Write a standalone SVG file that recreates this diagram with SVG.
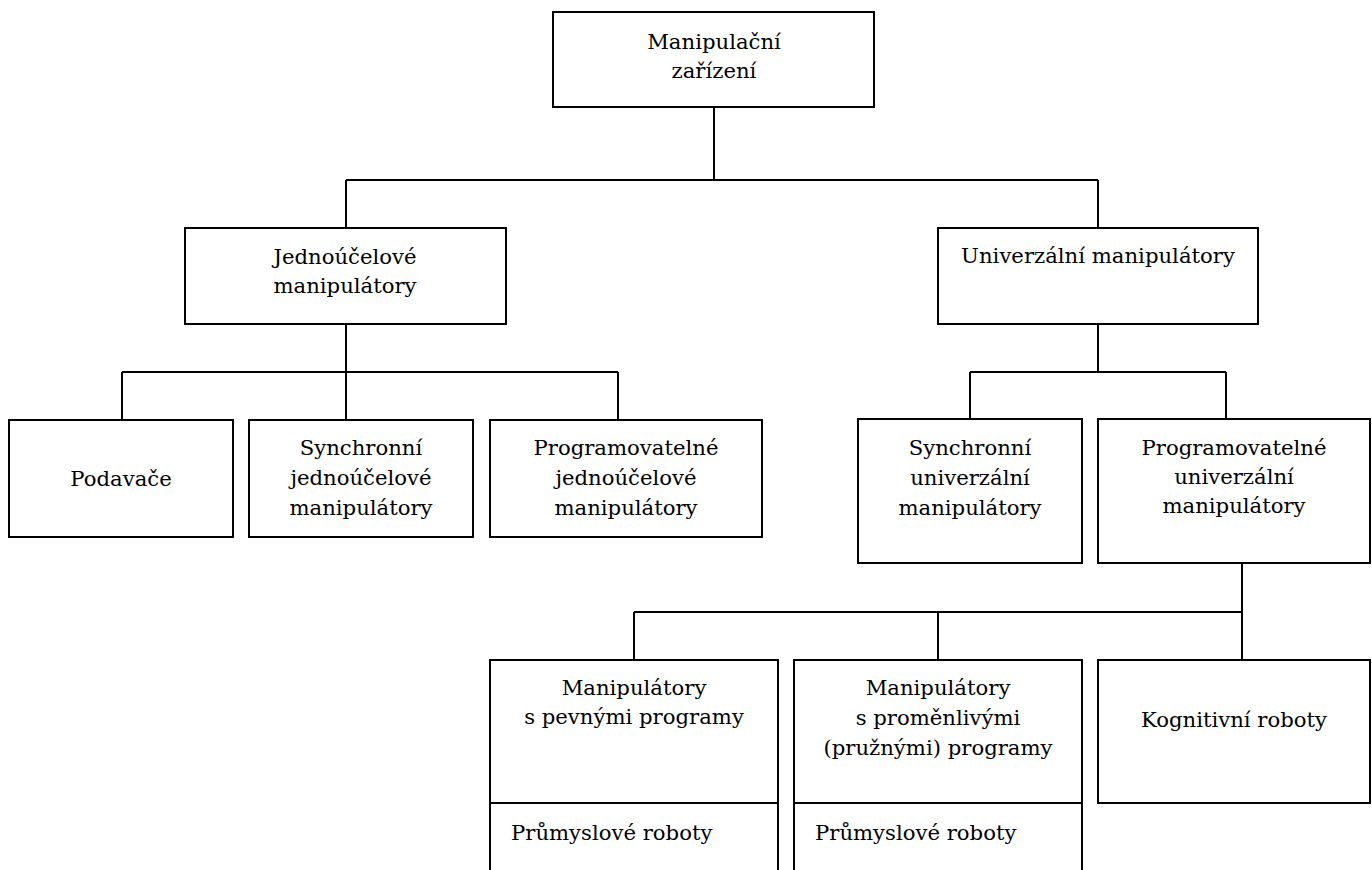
<svg xmlns="http://www.w3.org/2000/svg" width="1372" height="870" viewBox="0 0 1372 870">
  <style>
    .box { fill: #ffffff; stroke: #000000; stroke-width: 2; }
    .wire { fill: none; stroke: #000000; stroke-width: 2; }
    .lbl { font-family: 'DejaVu Serif', 'Liberation Serif', serif; font-size: 21.2px; fill: #000000; }
    .c { text-anchor: middle; }
  </style>
  <rect x="0" y="0" width="1372" height="870" fill="#ffffff"/>

  <!-- connectors -->
  <g id="connectors">
    <path class="wire" d="M714 107 V180 M346 180 H1098 M346 180 V228 M1098 180 V228"/>
    <path class="wire" d="M346 324 V372 M122 372 H618 M122 372 V420 M346 372 V420 M618 372 V420"/>
    <path class="wire" d="M1098 324 V372 M970 372 H1226 M970 372 V419 M1226 372 V419"/>
    <path class="wire" d="M1242 563 V612 M634 612 H1242 M634 612 V660 M938 612 V660 M1242 612 V660"/>
  </g>

  <g class="lbl">
    <g id="n-root">
      <rect class="box" x="553" y="12" width="321" height="95"/>
      <text class="c" x="714" y="49">Manipulační</text>
      <text class="c" x="714" y="78">zařízení</text>
    </g>

    <g id="n-jednoucelove">
      <rect class="box" x="185" y="228" width="321" height="96"/>
      <text class="c" x="345" y="264">Jednoúčelové</text>
      <text class="c" x="345" y="293">manipulátory</text>
    </g>

    <g id="n-univerzalni">
      <rect class="box" x="938" y="228" width="320" height="96"/>
      <text class="c" x="1098" y="263">Univerzální manipulátory</text>
    </g>

    <g id="n-podavace">
      <rect class="box" x="9" y="420" width="224" height="117"/>
      <text class="c" x="121" y="486">Podavače</text>
    </g>

    <g id="n-sync-jedn">
      <rect class="box" x="249" y="420" width="224" height="117"/>
      <text class="c" x="361" y="455">Synchronní</text>
      <text class="c" x="361" y="485">jednoúčelové</text>
      <text class="c" x="361" y="515">manipulátory</text>
    </g>

    <g id="n-prog-jedn">
      <rect class="box" x="490" y="420" width="272" height="117"/>
      <text class="c" x="626" y="455">Programovatelné</text>
      <text class="c" x="626" y="485">jednoúčelové</text>
      <text class="c" x="626" y="515">manipulátory</text>
    </g>

    <g id="n-sync-univ">
      <rect class="box" x="858" y="419" width="224" height="144"/>
      <text class="c" x="970" y="455">Synchronní</text>
      <text class="c" x="970" y="485">univerzální</text>
      <text class="c" x="970" y="515">manipulátory</text>
    </g>

    <g id="n-prog-univ">
      <rect class="box" x="1098" y="419" width="272" height="144"/>
      <text class="c" x="1234" y="455">Programovatelné</text>
      <text class="c" x="1234" y="484">univerzální</text>
      <text class="c" x="1234" y="513">manipulátory</text>
    </g>

    <g id="n-pevne">
      <rect class="box" x="490" y="660" width="288" height="230"/>
      <path class="wire" d="M490 803 H778"/>
      <text class="c" x="634" y="695">Manipulátory</text>
      <text class="c" x="634" y="724">s pevnými programy</text>
      <text x="511" y="840">Průmyslové roboty</text>
    </g>

    <g id="n-promenlive">
      <rect class="box" x="794" y="660" width="288" height="230"/>
      <path class="wire" d="M794 803 H1082"/>
      <text class="c" x="938" y="695">Manipulátory</text>
      <text class="c" x="938" y="725">s proměnlivými</text>
      <text class="c" x="938" y="755">(pružnými) programy</text>
      <text x="815" y="840">Průmyslové roboty</text>
    </g>

    <g id="n-kognitivni">
      <rect class="box" x="1098" y="660" width="272" height="143"/>
      <text class="c" x="1234" y="727">Kognitivní roboty</text>
    </g>
  </g>
</svg>
